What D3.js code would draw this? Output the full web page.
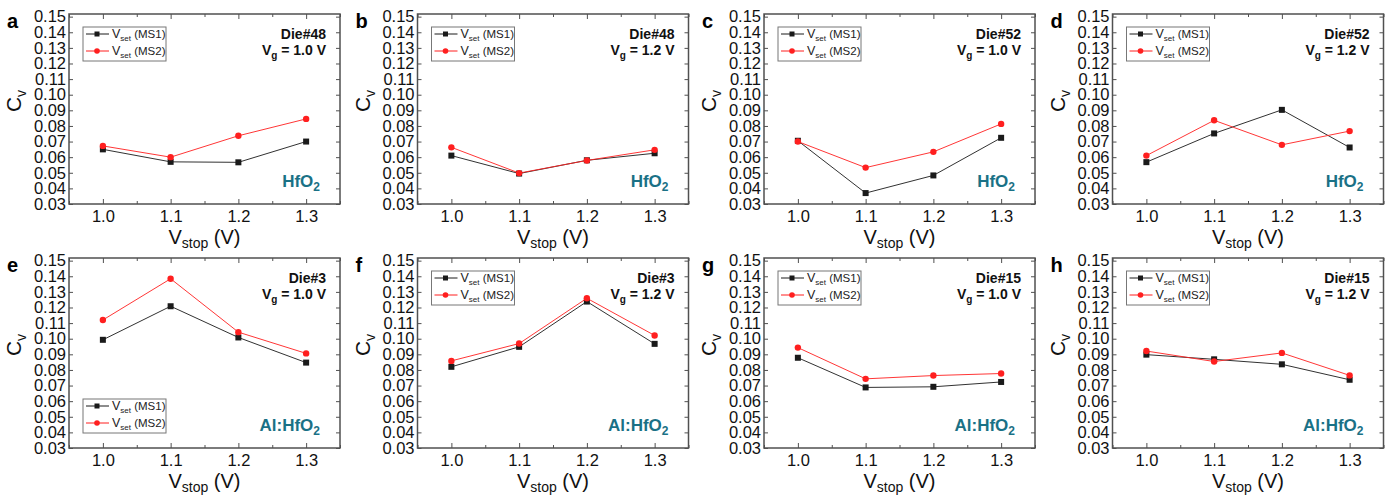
<!DOCTYPE html>
<html>
<head>
<meta charset="utf-8">
<script src="https://cdn.jsdelivr.net/npm/d3@7"></script>
<style>
  body { margin: 0; background: #fff; }
  svg { display: block; font-family: Arial, "Liberation Sans", sans-serif; }
</style>
</head>
<body>
<svg id="chart" width="1392" height="496"></svg>
<script>
// x values and tick labels
const vstop = [1.0, 1.1, 1.2, 1.3];
const xTicks = [1.0, 1.1, 1.2, 1.3];
const yTicks = [0.03, 0.04, 0.05, 0.06, 0.07, 0.08, 0.09, 0.10, 0.11, 0.12, 0.13, 0.14, 0.15];

// panel labels
const letters = ["a", "b", "c", "d", "e", "f", "g", "h"];
const dies = ["Die#48", "Die#48", "Die#52", "Die#52", "Die#3", "Die#3", "Die#15", "Die#15"];
const vgs = ["1.0", "1.2", "1.0", "1.2", "1.0", "1.2", "1.0", "1.2"];
const materials = ["HfO2", "HfO2", "HfO2", "HfO2", "Al:HfO2", "Al:HfO2", "Al:HfO2", "Al:HfO2"];

// Cv values, Vset (MS1) and Vset (MS2)
const ms1_a = [0.0650, 0.0570, 0.0567, 0.0700];
const ms2_a = [0.0672, 0.0600, 0.0737, 0.0845];
const ms1_b = [0.0610, 0.0495, 0.0580, 0.0625];
const ms2_b = [0.0663, 0.0498, 0.0579, 0.0647];
const ms1_c = [0.0705, 0.0370, 0.0483, 0.0724];
const ms2_c = [0.0700, 0.0533, 0.0634, 0.0813];
const ms1_d = [0.0568, 0.0752, 0.0903, 0.0662];
const ms2_d = [0.0610, 0.0836, 0.0679, 0.0767];
const ms1_e = [0.0993, 0.1208, 0.1008, 0.0847];
const ms2_e = [0.1120, 0.1384, 0.1042, 0.0906];
const ms1_f = [0.0820, 0.0948, 0.1238, 0.0967];
const ms2_f = [0.0858, 0.0969, 0.1259, 0.1021];
const ms1_g = [0.0878, 0.0688, 0.0692, 0.0723];
const ms2_g = [0.0943, 0.0743, 0.0764, 0.0777];
const ms1_h = [0.0898, 0.0868, 0.0836, 0.0737];
const ms2_h = [0.0921, 0.0854, 0.0909, 0.0765];

const ms1All = [ms1_a, ms1_b, ms1_c, ms1_d, ms1_e, ms1_f, ms1_g, ms1_h];
const ms2All = [ms2_a, ms2_b, ms2_c, ms2_d, ms2_e, ms2_f, ms2_g, ms2_h];

// layout
const colLeft = [69, 417.5, 764, 1112.5];
const rowTop = [14, 258];
const pw = 271, ph = 190;
const frameColor = "#505050";
const teal = "#1a7186";
const red = "#ff1f1f";
const black = "#1a1a1a";

const svg = d3.select("#chart");

letters.forEach((letter, i) => {
  const left = colLeft[i % 4];
  const top = rowTop[Math.floor(i / 4)];
  const bottom = top + ph;

  const x = d3.scaleLinear().domain([0.95, 1.35]).range([left, left + pw]);
  const y = d3.scaleLinear().domain([0.03, 0.1517]).range([bottom, top]);

  const g = svg.append("g");

  // axes, ticks inward
  const minorX = d3.range(0.95, 1.351, 0.05).map(v => +v.toFixed(2)).filter(v => !xTicks.includes(v));

  const axB = g.append("g").attr("transform", `translate(0,${bottom})`)
    .call(d3.axisBottom(x).tickValues(xTicks).tickSizeInner(-5).tickSizeOuter(0).tickPadding(3).tickFormat(d3.format(".1f")));
  g.append("g").attr("transform", `translate(0,${bottom})`)
    .call(d3.axisBottom(x).tickValues(minorX).tickSizeInner(-3).tickSizeOuter(0).tickFormat(""));
  g.append("g").attr("transform", `translate(0,${top})`)
    .call(d3.axisTop(x).tickValues(xTicks).tickSizeInner(-5).tickSizeOuter(0).tickFormat(""));
  g.append("g").attr("transform", `translate(0,${top})`)
    .call(d3.axisTop(x).tickValues(minorX).tickSizeInner(-3).tickSizeOuter(0).tickFormat(""));
  const axL = g.append("g").attr("transform", `translate(${left},0)`)
    .call(d3.axisLeft(y).tickValues(yTicks).tickSizeInner(-4).tickSizeOuter(0).tickPadding(3).tickFormat(d3.format(".2f")));
  g.append("g").attr("transform", `translate(${left + pw},0)`)
    .call(d3.axisRight(y).tickValues(yTicks).tickSizeInner(-4).tickSizeOuter(0).tickFormat(""));

  g.selectAll(".domain").remove();
  g.selectAll(".tick line").attr("stroke", frameColor).attr("stroke-width", 1);
  axB.selectAll("text").attr("font-size", 16.5).attr("fill", "#111").attr("dy", "0.9em");
  axL.selectAll("text").attr("font-size", 16.5).attr("fill", "#111");

  g.append("rect")
    .attr("x", left).attr("y", top).attr("width", pw).attr("height", ph)
    .attr("fill", "none").attr("stroke", frameColor).attr("stroke-width", 1.5);

  // axis titles
  const yt = g.append("text")
    .attr("transform", `translate(${left - 48},${top + ph / 2 - 8}) rotate(-90)`)
    .attr("text-anchor", "middle").attr("font-size", 21).attr("fill", "#111");
  yt.append("tspan").text("C");
  yt.append("tspan").attr("font-size", 14).attr("dy", 5).text("v");

  const xt = g.append("text")
    .attr("x", left + pw / 2).attr("y", bottom + 40)
    .attr("text-anchor", "middle").attr("font-size", 20).attr("fill", "#111");
  xt.append("tspan").text("V");
  xt.append("tspan").attr("font-size", 14).attr("dy", 4).text("stop");
  xt.append("tspan").attr("dy", -4).text(" (V)");

  // panel letter
  g.append("text").attr("x", left - 62).attr("y", top + 14)
    .attr("font-size", 20).attr("font-weight", "bold").attr("fill", "#000").text(letter);

  // die / Vg
  g.append("text").attr("x", left + 257).attr("y", top + 25)
    .attr("text-anchor", "end").attr("font-size", 14).attr("font-weight", "bold").attr("fill", "#111")
    .text(dies[i]);
  const vg = g.append("text").attr("x", left + 257).attr("y", top + 41)
    .attr("text-anchor", "end").attr("font-size", 14).attr("font-weight", "bold").attr("fill", "#111");
  vg.append("tspan").text("V");
  vg.append("tspan").attr("font-size", 10).attr("dy", 4).text("g");
  vg.append("tspan").attr("dy", -4).text(` = ${vgs[i]} V`);

  // material
  const mat = g.append("text").attr("x", left + 251).attr("y", top + 173)
    .attr("text-anchor", "end").attr("font-size", 17).attr("font-weight", "bold").attr("fill", teal);
  mat.append("tspan").text(materials[i].slice(0, -1));
  mat.append("tspan").attr("font-size", 12).attr("dy", 4).text("2");

  // lines and markers
  const line = d3.line().x((d, j) => x(vstop[j])).y(d => y(d));
  const series = [
    { vals: ms1All[i], color: black, shape: "square", name: "MS1" },
    { vals: ms2All[i], color: red, shape: "circle", name: "MS2" }
  ];
  series.forEach(s => {
    g.append("path").datum(s.vals)
      .attr("fill", "none").attr("stroke", s.color).attr("stroke-width", 0.9).attr("d", line);
  });
  series.forEach(s => {
    if (s.shape === "square") {
      g.selectAll(null).data(s.vals).enter().append("rect")
        .attr("x", (d, j) => x(vstop[j]) - 3).attr("y", d => y(d) - 3)
        .attr("width", 6).attr("height", 6).attr("fill", s.color);
    } else {
      g.selectAll(null).data(s.vals).enter().append("circle")
        .attr("cx", (d, j) => x(vstop[j])).attr("cy", d => y(d))
        .attr("r", 3.2).attr("fill", s.color);
    }
  });

  // legend
  const lx = left + 14;
  const ly = i === 4 ? top + 141 : top + 13;
  const lg = g.append("g").attr("transform", `translate(${lx},${ly})`);
  lg.append("rect").attr("width", 83).attr("height", 34)
    .attr("fill", "#fff").attr("stroke", "#777").attr("stroke-width", 1);
  series.forEach((s, k) => {
    const yy = 7 + k * 17;
    lg.append("line").attr("x1", 3).attr("x2", 26).attr("y1", yy).attr("y2", yy)
      .attr("stroke", s.color).attr("stroke-width", 1);
    if (s.shape === "square") {
      lg.append("rect").attr("x", 11.5).attr("y", yy - 2.5).attr("width", 5).attr("height", 5).attr("fill", s.color);
    } else {
      lg.append("circle").attr("cx", 14).attr("cy", yy).attr("r", 2.8).attr("fill", s.color);
    }
    const t = lg.append("text").attr("x", 29).attr("y", yy + 4).attr("font-size", 12.5).attr("fill", "#222");
    t.append("tspan").text("V");
    t.append("tspan").attr("font-size", 8).attr("dy", 3).text("set");
    t.append("tspan").attr("font-size", 11.5).attr("dy", -3).text(` (${s.name})`);
  });
});
</script>
</body>
</html>
